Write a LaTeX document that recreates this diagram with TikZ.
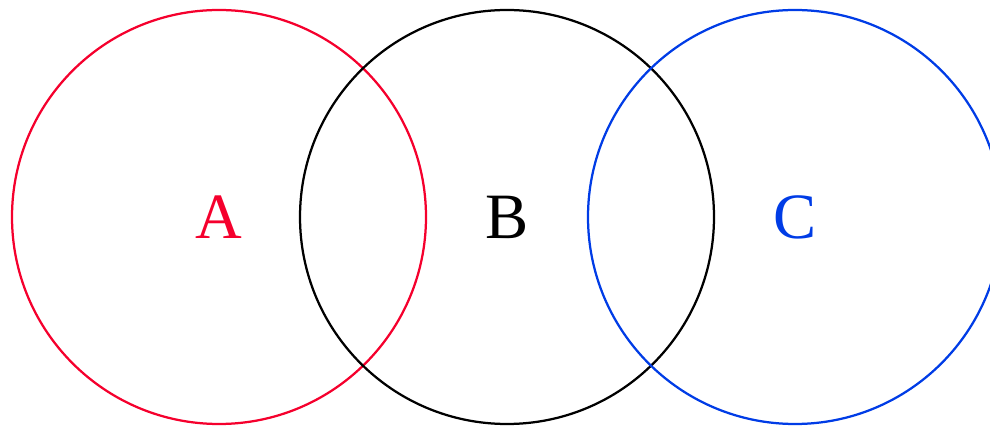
\documentclass[tikz,border=0pt]{standalone}
\usepackage{fontspec}
\setmainfont{Liberation Serif}
\usepackage{tikz}
\definecolor{setred}{RGB}{245,0,45}
\definecolor{setblue}{RGB}{0,60,230}

\begin{document}
\begin{tikzpicture}[set/.style={circle,draw,line width=1.6pt,minimum size=10.35cm,inner sep=0pt,font=\fontsize{46}{50}\selectfont}]
\useasboundingbox (0,0) rectangle (24.75,10.625);
\node[set,setred] (setA) at (5.475,5.2) {A};
\node[set,black] (setB) at (12.675,5.2) {B};
\node[set,setblue] (setC) at (19.875,5.2) {C};
\end{tikzpicture}
\end{document}
